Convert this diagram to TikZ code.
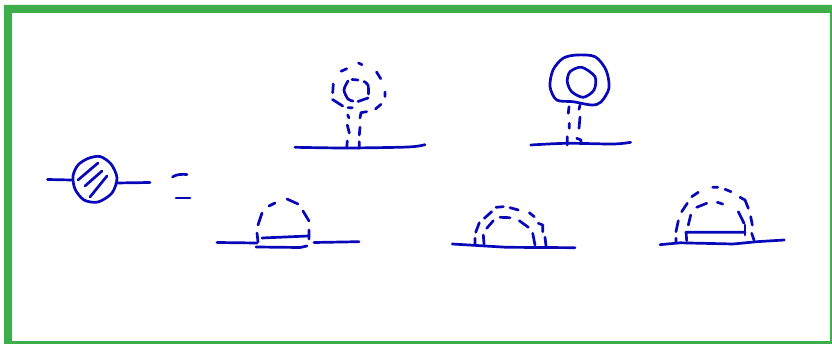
\documentclass[tikz,border=0pt]{standalone}
\usepackage{tikz}

\definecolor{inkblue}{HTML}{0808B8}
\definecolor{framegreen}{HTML}{3DAE49}

\begin{document}
\begin{tikzpicture}[
    x=1pt, y=-1pt,
    ink/.style = {draw=inkblue, line width=2.7pt, line cap=round, line join=round}
]
\useasboundingbox (0,0) rectangle (832,344);

% --- Frame ---
\fill[white] (0,0) rectangle (832,344);
\fill[framegreen, even odd rule] (4,5) rectangle (832,344) (12,13) rectangle (830,341);

% --- Shaded blob and equals sign ---
\draw[ink] (47.5,179.5) -- (71.5,180);
\draw[ink] (116,183) -- (150,182.5);
\draw[ink] plot[smooth cycle] coordinates {(88,158.5) (100,156.5) (111,164) (117,178) (112,193) (98,202) (84,200) (75,189) (73,176) (78,165)};
\draw[ink] (78,180) -- (98,163) (85,186) -- (102,171) (90,197) -- (107,176);
\draw[ink] (172.5,177) .. controls (176,174.5) and (181,174) .. (187,174.5);
\draw[ink] (176,198) -- (190,198);

% --- Top left: dashed bubble on a stem ---
\draw[ink] plot[smooth] coordinates {(295,147.3) (347,148) (408,147) (425,144.7)};
\draw[ink] (341,71.3) -- (346.7,68.7) (358.5,63) -- (362,64.7) (376.5,72) -- (380.7,78.7)
    (385,92) -- (385,96.5) (375.5,109) -- (381,104.3) (332.5,99.5) -- (342.7,106)
    (333.3,84) -- (332.7,92.7);
\draw[ink] plot[smooth] coordinates {(348,81) (344,90) (348,99) (353,101)};
\draw[ink] (358,101.5) -- (368,98);
\draw[ink] plot[smooth] coordinates {(368.5,94) (368,85) (364,81.5)};
\draw[ink] (358,80) -- (352,79.5);
\draw[ink] (348,107.7) -- (352.3,107.7) (347.7,115) -- (349,118) (347.3,125) -- (349.3,133)
    (347.3,141) -- (346.7,148);
\draw[ink] (360,118) -- (361,112.7) -- (366.7,111.7);
\draw[ink] (360,127.3) -- (359.3,135) (359.3,141.7) -- (359.3,148);

% --- Top right: solid bubble on a dashed stem ---
\draw[ink] plot[smooth] coordinates {(530.7,145) (566.7,143.3) (613,144) (630.7,142.3)};
\draw[ink] plot[smooth cycle] coordinates {(576.7,55) (595,56.7) (606,70) (609,88) (601,102) (591.7,105) (573,101.7) (556.7,100) (550,86.7) (553,70) (563,58.3)};
\draw[ink] plot[smooth cycle] coordinates {(581.7,67.3) (595,76.7) (594,90) (583.3,97.3) (571.7,91.7) (567.3,81.7) (570,71.7)};
\draw[ink] (569,106.7) -- (568.3,113.3) (569.3,123.3) -- (569.3,128.3) (567.3,136.7) -- (567.3,145);
\draw[ink] (580,105) -- (579,109.3) (580,117) -- (579,128.3);
\draw[ink] (576.7,138.3) -- (581,140) -- (581,144);

% --- Bottom left: dashed arc over a thin strip ---
\draw[ink] (217,242.5) -- (257,243);
\draw[ink] (314,242.5) -- (359,241.7);
\draw[ink] (262,238) -- (308,236) (256,247) -- (300,247.5) -- (307,246);
\draw[ink] (309,230) -- (309,239) (257,233) -- (258,242);
\draw[ink] (258,225) -- (262,213) (269,206) -- (275,203) (287,199) -- (298,204) (303,211) -- (309,221);

% --- Bottom middle: two dashed arcs ---
\draw[ink] (452.3,244) -- (506.7,247.3) -- (575,247.7);
\draw[ink] (475,244) -- (475,238.3) (475.7,232.3) -- (479.3,222.7) (484.3,218.3) -- (491.7,211.7)
    (496,207.3) -- (503.3,206.7) (510,207.7) -- (518.3,210) (529.3,212.7) -- (534.3,216.7)
    (545,237.3) -- (546,246);
\draw[ink] (538.3,223.3) -- (542.7,225) -- (542.7,231.7);
\draw[ink] (483.3,235) -- (484,244) (486.7,228.3) -- (493.3,220.7) (500,217.3) -- (510,217.7)
    (519.3,220.7) -- (528.3,227.3) (532.7,233.3) -- (535,245);

% --- Bottom right: two dashed arcs over a strip ---
\draw[ink] (660,244.7) -- (680,242.8) -- (733.3,244) -- (756.7,241.7) -- (784.3,240);
\draw[ink] (686.7,240.7) -- (686,232.3) -- (745,232.3);
\draw[ink] (745,225) -- (745,235);
\draw[ink] (676,238.3) -- (676,241.7) (676,231.7) -- (678.3,220.7) (681.7,211.7) -- (687.3,203.3)
    (691.7,196.7) -- (698.3,192.3) (712.7,187.3) -- (717.7,187.3) (725,189.3) -- (731,191.7)
    (750.7,216.7) -- (752.3,225) (751.7,233.3) -- (754,240);
\draw[ink] (740,197.3) -- (745,200) -- (748.3,208.3);
\draw[ink] (688.3,225) -- (690.7,215) (696.7,207.3) -- (706.7,203.3) (717.3,202.3) -- (722.7,204)
    (738.3,211.7) -- (744,223.3);

\end{tikzpicture}
\end{document}
